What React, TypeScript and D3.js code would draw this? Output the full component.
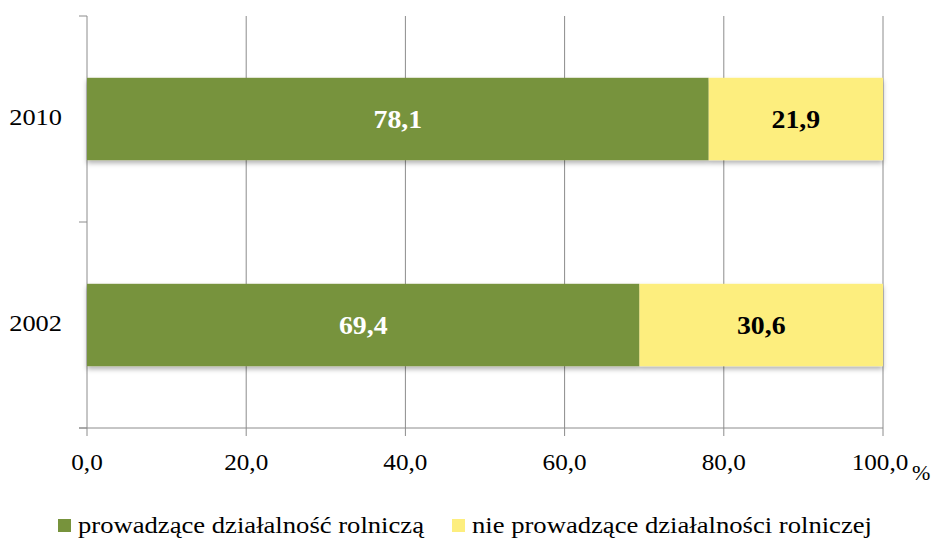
import { scaleBand, scaleLinear } from "d3";
import type { ReactNode } from "react";

const W = 935;
const H = 541;
const M = { top: 16, right: 52, bottom: 113, left: 87 };

const years = ["2010", "2002"];
const farming = [78.1, 69.4];
const nonFarming = [21.9, 30.6];
const xTicks = [0, 20, 40, 60, 80, 100];
const seriesNames = ["prowadzące działalność rolniczą", "nie prowadzące działalności rolniczej"];
const colors = ["#77933C", "#FDEE7E"];

const fmt = (v: number) => v.toFixed(1).replace(".", ",");

// text stretched horizontally, the source picture is a bit wider than tall
function T({ x, y, sx = 1, children, ...rest }: { x: number; y: number; sx?: number; children: ReactNode; [k: string]: unknown }) {
  return (
    <text transform={`translate(${x},${y}) scale(${sx},1)`} {...rest}>
      {children}
    </text>
  );
}

export default function App() {
  const x = scaleLinear().domain([0, 100]).range([M.left, W - M.right]);
  const y = scaleBand().domain(years).range([M.top, H - M.bottom]).paddingInner(0.6).paddingOuter(0.3);
  const band = scaleBand().domain(years).range([M.top, H - M.bottom]);
  const bottom = H - M.bottom;
  const font = "Liberation Serif, Times New Roman, DejaVu Serif, serif";

  return (
    <svg width={W} height={H} style={{ position: "absolute", left: 0, top: 0, fontFamily: font }}>
      <defs>
        <filter id="sh" x="-5%" y="-20%" width="110%" height="150%">
          <feDropShadow dx="0" dy="3" stdDeviation="2.5" floodColor="#000" floodOpacity="0.3" />
        </filter>
      </defs>
      <rect width={W} height={H} fill="#fff" />
      {xTicks.map((t) => (
        <g key={t}>
          <line x1={x(t)} x2={x(t)} y1={M.top} y2={bottom + 8} stroke="#8c8c8c" strokeWidth={1} />
          <T x={x(t) - (t === 100 ? 3 : 0)} y={bottom + 42} sx={1.05} textAnchor="middle" fontSize={24} fill="#000">
            {fmt(t)}
          </T>
        </g>
      ))}
      <T x={x(100) + 29} y={bottom + 52} fontSize={22} fill="#000">%</T>
      <line x1={M.left - 8} x2={x(100)} y1={bottom} y2={bottom} stroke="#8c8c8c" />
      {[M.top, ...years.map((yr) => (band(yr) ?? 0) + band.bandwidth())].map((v, i) => (
        <line key={i} x1={M.left - 8} x2={M.left} y1={v} y2={v} stroke="#8c8c8c" />
      ))}
      {years.map((yr, i) => {
        const y0 = y(yr) ?? 0;
        const h = y.bandwidth();
        const cy = y0 + h / 2;
        return (
          <g key={yr}>
            <g filter="url(#sh)">
              <rect x={x(0)} y={y0} width={x(farming[i]) - x(0)} height={h} fill={colors[0]} />
              <rect x={x(farming[i])} y={y0} width={x(farming[i] + nonFarming[i]) - x(farming[i])} height={h} fill={colors[1]} />
            </g>
            <T x={(x(0) + x(farming[i])) / 2} y={cy + 9} sx={1.07} textAnchor="middle" fontSize={26} fontWeight="bold" fill="#fff">
              {fmt(farming[i])}
            </T>
            <T x={(x(farming[i]) + x(100)) / 2} y={cy + 9} sx={1.07} textAnchor="middle" fontSize={26} fontWeight="bold" fill="#000">
              {fmt(nonFarming[i])}
            </T>
            <T x={M.left - 25} y={cy + 6} sx={1.1} textAnchor="end" fontSize={24} fill="#000">
              {yr}
            </T>
          </g>
        );
      })}
      {seriesNames.map((name, i) => {
        const lx = i === 0 ? 58 : 452;
        return (
          <g key={name}>
            <rect x={lx} y={519} width={13} height={13} fill={colors[i]} />
            <T x={lx + 20} y={533} sx={1.11} fontSize={24} fill="#000">{name}</T>
          </g>
        );
      })}
    </svg>
  );
}
